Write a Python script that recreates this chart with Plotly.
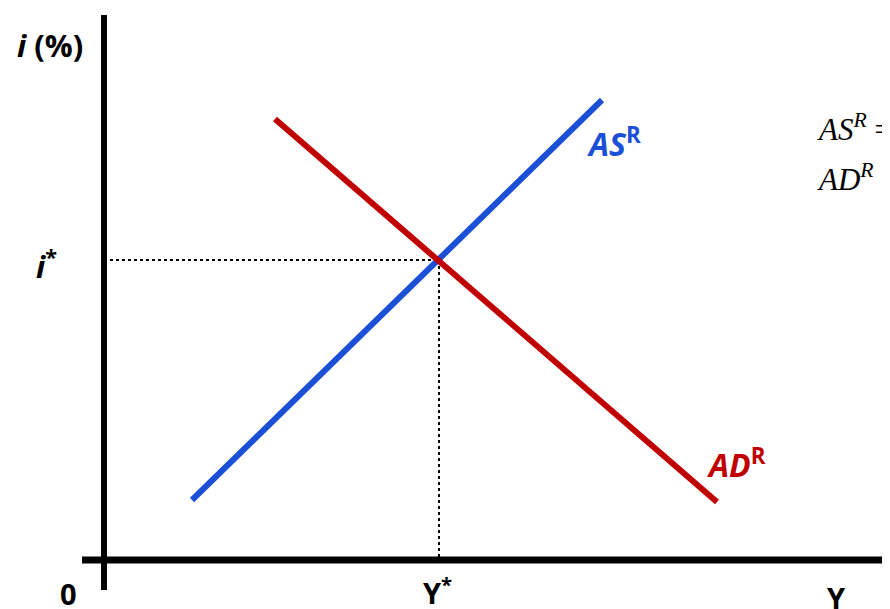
import plotly.graph_objects as go

# Abstract model values (output Y on x, interest rate i on y)
as_x = [88, 498]
as_y = [60, 460]
ad_x = [171, 613]
ad_y = [441, 58]
y_star = 335
i_star = 300

fig = go.Figure()

BLUE = "#1a4fd6"
RED = "#c00000"

# dotted guides
fig.add_trace(go.Scatter(x=[0, y_star], y=[i_star, i_star], mode="lines",
                         line=dict(color="black", width=2, dash="dot"), hoverinfo="skip"))
fig.add_trace(go.Scatter(x=[y_star, y_star], y=[i_star, 0], mode="lines",
                         line=dict(color="black", width=2, dash="dot"), hoverinfo="skip"))
# curves
fig.add_trace(go.Scatter(x=as_x, y=as_y, mode="lines",
                         line=dict(color=BLUE, width=6), hoverinfo="skip"))
fig.add_trace(go.Scatter(x=ad_x, y=ad_y, mode="lines",
                         line=dict(color=RED, width=6), hoverinfo="skip"))

# axes lines
fig.add_shape(type="line", x0=0, x1=0, y0=-30, y1=545, line=dict(color="black", width=6))
fig.add_shape(type="line", x0=-22, x1=800, y0=0, y1=0, line=dict(color="black", width=7))

F = "Open Sans"
ann = []
def a(x, y, text, size, color="black", xanchor="center", family=F):
    ann.append(dict(x=x, y=y, text=text, showarrow=False, xanchor=xanchor, yanchor="middle",
                    font=dict(family=family, size=size, color=color)))

a(-54, 515, "<b><i>i</i> (%)</b>", 31)
a(-58, 296, "<b><i>i</i><sup>*</sup></b>", 31)
a(-36, -33, "<b>0</b>", 29)
a(y_star - 2, -31, "<b>Y<sup>*</sup></b>", 29)
a(732, -37, "<b>Y</b>", 29)
a(510, 418, "<b><i>AS</i><sup>R</sup></b>", 32, BLUE, "center")
a(632, 97, "<b><i>AD</i><sup>R</sup></b>", 32, RED, "center")
a(711, 433, "<i>AS<sup>R</sup></i> =", 31, "black", "left", "Liberation Serif")
a(711, 383, "<i>AD<sup>R</sup></i> =", 31, "black", "left", "Liberation Serif")

fig.update_layout(
    width=890, height=609,
    margin=dict(l=0, r=0, t=0, b=0),
    paper_bgcolor="white", plot_bgcolor="white",
    showlegend=False,
    xaxis=dict(range=[-96, 794], visible=False, fixedrange=True),
    yaxis=dict(range=[-57, 552], visible=False, fixedrange=True),
    annotations=ann,
)

fig.write_html("out.html")
